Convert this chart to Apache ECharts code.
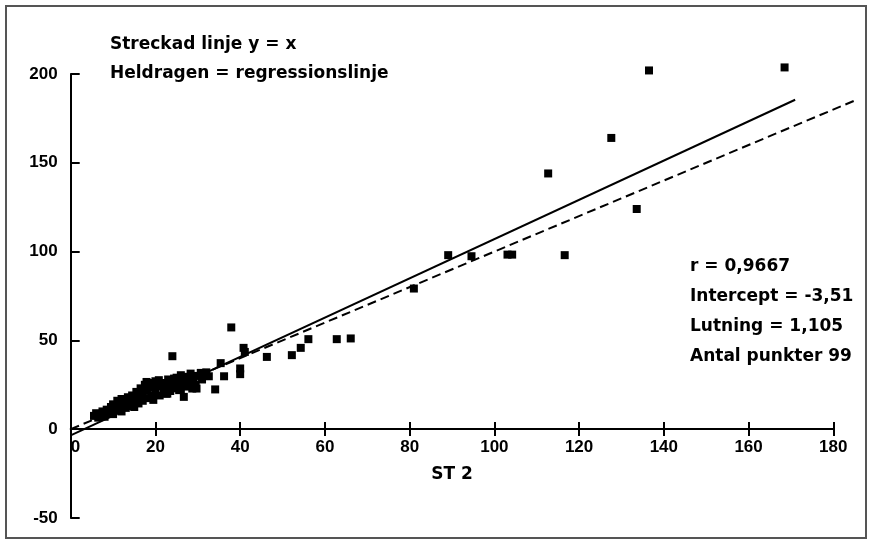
<!DOCTYPE html>
<html><head><meta charset="utf-8">
<script src="https://cdn.jsdelivr.net/npm/echarts@6/dist/echarts.min.js"></script>
<style>html,body{margin:0;padding:0;background:#fff}#c{width:874px;height:548px}</style>
</head><body><div id="c"></div>
<script>
// ST 2 (x) and method values (y)
const pointsX = [136.5,168.5,127.6,112.7,133.6,89.1,94.6,103.1,104.2,116.6,81,
  37.9,40.8,41.1,46.3,52.2,54.3,56.1,62.8,66.1,36.2,40,40,35.4,24,34.1,26.7,29.7,26,30.7,32.6,20.8,17.9,24.4,28.3,28.7,22.8,25.6,
  5.5,6,6.5,7,7.5,8,8.5,9,9.5,10,10,10.5,11,11.5,12,12,12.5,13,13.5,13.5,14,14.5,15,15,15.5,16,16,16.5,17,17,17.5,18,18,18.5,19,19,19.5,20,20,20.5,21,21.5,22,22.5,23,23,23.5,24,24.5,25,25.5,26,26.5,27,27.5,28,29,29.5,30,31,32];
const pointsY = [202,203.7,164,144,124,98,97.4,98.3,98.3,98,79.2,
  57.3,45.8,43.5,40.7,41.7,45.8,50.7,50.7,51.1,29.8,34.2,31,37.2,41.1,22.4,18.2,22.9,30.4,31.7,29.8,27.6,26.6,28.5,31.3,22.9,20,22,
  7.5,9,6.5,8,10,7,11,9,12.5,8.5,14,11,16,12.5,10,17,14,12,18,15.5,13,19,16,12.5,21,14.5,18,23,16,20,25,17.5,22,26,19,23.5,16.5,21,27,24,19,26,22,20,28,24,21.5,26,23,29,25,22.5,27,24,29.5,26.5,28,25,30,28,32];
// line end points
const regressionLine = [[0,-3.51],[171,185.5]];
const identityLine = [[0,0],[186,186]];
const xTickLabels = {min:0, max:180, interval:20};
const yTickLabels = {min:-50, max:200, interval:50};
const noteLeft = ['Streckad linje y = x','Heldragen = regressionslinje'];
const noteRight = ['r = 0,9667','Intercept = -3,51','Lutning = 1,105','Antal punkter 99'];

const scatterData = pointsX.map((x,i)=>[x,pointsY[i]]);
const chart = echarts.init(document.getElementById('c'));
const tickFont = {fontFamily:'"Liberation Sans", Arial, sans-serif', fontWeight:'bold', fontSize:17, color:'#000'};
const noteFont = 'bold 17px "DejaVu Sans", sans-serif';
const graphics = [{type:'rect', shape:{x:6,y:6,width:860,height:532}, style:{fill:'none', stroke:'#555', lineWidth:2}, silent:true}];
noteLeft.forEach((t,i)=>graphics.push({type:'text', x:110, y:45+i*29, style:{text:t, font:noteFont, fill:'#000', verticalAlign:'middle'}}));
noteRight.forEach((t,i)=>graphics.push({type:'text', x:690, y:267+i*29.7, style:{text:t, font:noteFont, fill:'#000', verticalAlign:'middle'}}));

// pixel scale: 180 units over 762.6 px -> data grid widened to 185 units so y = x can run past 180
const L = 70.7, plotW = 762.6, pxPerUnit = plotW / xTickLabels.max;
const dataMaxX = 185;
const dataRight = 874 - L - dataMaxX * pxPerUnit;

chart.setOption({
  animation:false,
  backgroundColor:'#fff',
  grid:[
    {left:L, right:dataRight, top:74, bottom:30, containLabel:false, outerBoundsMode:'none'},
    {left:L, right:874 - L - plotW, top:74, bottom:119, containLabel:false, outerBoundsMode:'none'},
    {left:L, right:874 - L - plotW, top:429, bottom:30, containLabel:false, outerBoundsMode:'none'}
  ],
  xAxis:[{
    gridIndex:0, type:'value', min:0, max:dataMaxX, show:false
  },{
    gridIndex:1, type:'value', min:xTickLabels.min, max:xTickLabels.max, interval:xTickLabels.interval,
    position:'bottom',
    name:'ST 2', nameLocation:'middle', nameGap:37,
    nameTextStyle:{fontFamily:'"DejaVu Sans", sans-serif', fontWeight:'bold', fontSize:17, color:'#000'},
    axisLine:{show:true, onZero:false, lineStyle:{color:'#000', width:2}},
    axisTick:{show:true, inside:false, length:7, lineStyle:{color:'#000', width:2}},
    axisLabel:Object.assign({margin:10, alignMinLabel:'left'}, tickFont),
    splitLine:{show:false}
  },{
    gridIndex:2, type:'value', min:xTickLabels.min, max:xTickLabels.max, interval:xTickLabels.interval,
    position:'top',
    axisLine:{show:false, onZero:false},
    axisTick:{show:true, inside:false, length:7, lineStyle:{color:'#000', width:2}},
    axisLabel:{show:false}, splitLine:{show:false}
  }],
  yAxis:[{
    gridIndex:0, type:'value', min:yTickLabels.min, max:yTickLabels.max, interval:yTickLabels.interval,
    axisLine:{show:true, onZero:false, lineStyle:{color:'#000', width:2}},
    axisTick:{show:true, inside:true, length:9, lineStyle:{color:'#000', width:2}},
    axisLabel:Object.assign({margin:13}, tickFont),
    splitLine:{show:false}
  },{
    gridIndex:1, type:'value', min:0, max:200, show:false
  },{
    gridIndex:2, type:'value', min:-50, max:0, show:false
  }],
  graphic:graphics,
  series:[
    {type:'line', data:identityLine, showSymbol:false, symbol:'none', clip:false, silent:true,
     lineStyle:{color:'#000', width:2, type:[9,5]}, z:2},
    {type:'line', data:regressionLine, showSymbol:false, symbol:'none', clip:false, silent:true,
     lineStyle:{color:'#000', width:2}, z:2},
    {type:'scatter', data:scatterData, symbol:'rect', symbolSize:8, clip:false,
     itemStyle:{color:'#000', opacity:1}, z:3}
  ]
});
</script></body></html>
